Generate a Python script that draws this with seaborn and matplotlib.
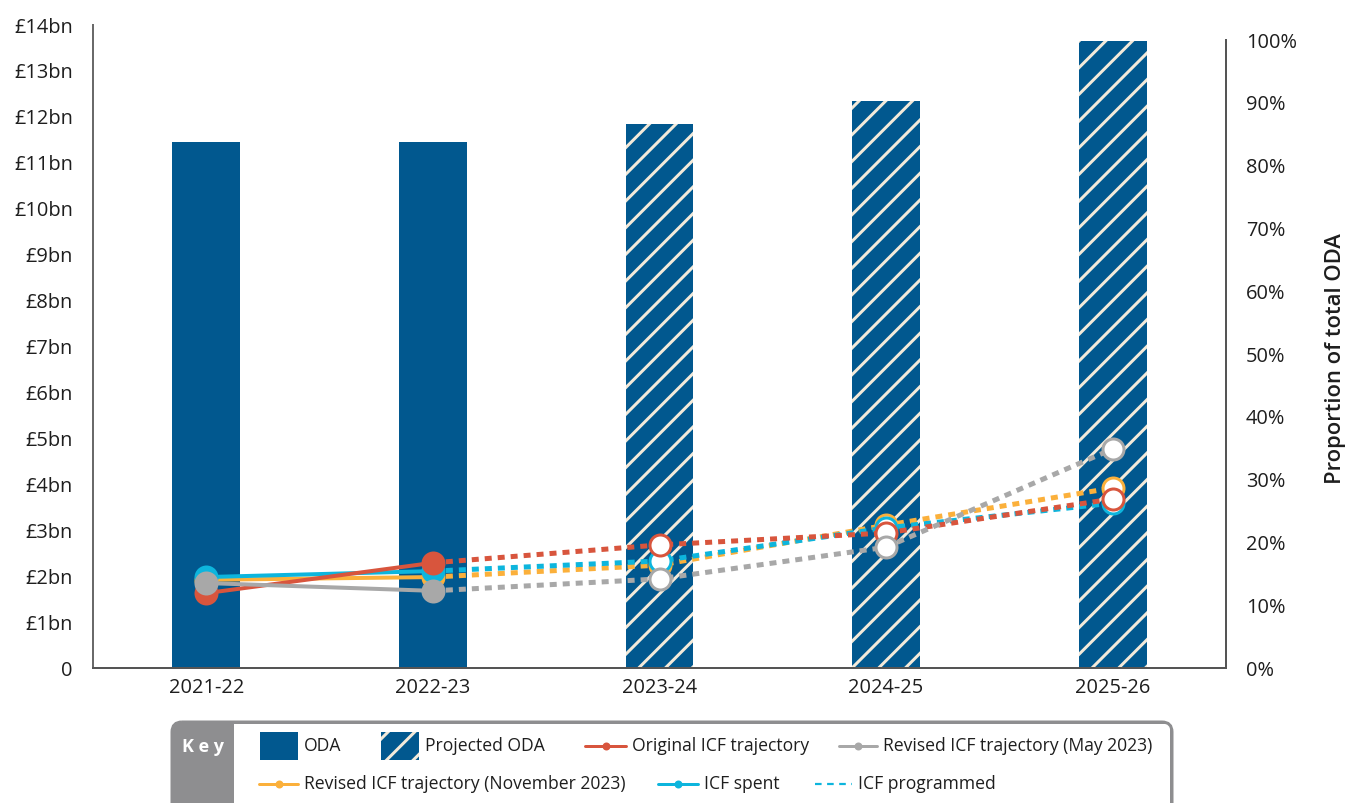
import numpy as np
import matplotlib
matplotlib.use('Agg')
import matplotlib.pyplot as plt
import seaborn as sns
from matplotlib.patches import Rectangle, FancyBboxPatch
from matplotlib.lines import Line2D

# ---------------- data ----------------
years = ['2021-22', '2022-23', '2023-24', '2024-25', '2025-26']
oda_bn = [11.45, 11.45, 11.84, 12.34, 13.66]
oda_projected = [False, False, True, True, True]
original_icf = [1.63, 2.29, 2.68, 2.94, 3.68]
revised_may_2023 = [1.85, 1.68, 1.94, 2.63, 4.77]
revised_nov_2023 = [1.92, 1.98, 2.24, 3.11, 3.92]
icf_spent = [1.98, 2.11]                 # 2021-22, 2022-23
icf_programmed = [2.11, 2.33, 3.05, 3.59]  # 2022-23 .. 2025-26
left_ticks = list(range(0, 15))
left_labels = ['0'] + [f'£{v}bn' for v in range(1, 15)]
right_ticks = list(range(0, 101, 10))
right_labels = [f'{v}%' for v in right_ticks]

# ---------------- style ----------------
BLUE = '#01588F'
CREAM = '#F3EADA'
RED = '#D8553D'
GREY = '#A8A8A8'
ORANGE = '#FBB03B'
CYAN = '#0DB5DD'
KEYGREY = '#8E8E90'
TXT = '#1E1E1E'

DPI = 80
PT = 72 / DPI
W, H = 1346, 803

sns.set_theme(style='white')
plt.rcParams['font.family'] = ['Open Sans', 'DejaVu Sans']
plt.rcParams['hatch.linewidth'] = 3 * PT
plt.rcParams['text.color'] = TXT

fig = plt.figure(figsize=(W / DPI, H / DPI), dpi=DPI)
ax = fig.add_axes([93 / W, 1 - 668 / H, (1226 - 93) / W, (668 - 25) / H])

# bars
sns.barplot(x=years, y=oda_bn, color=BLUE, saturation=1, width=0.30, ax=ax, zorder=1)
for patch, proj in zip(ax.patches, oda_projected):
    patch.set_linewidth(0)
    if proj:
        patch.set_hatch('/')
        patch.set_edgecolor(CREAM)

xs = np.arange(len(years))
n_actual = oda_projected.count(False)
act_x = xs[:n_actual]
proj_x = xs[n_actual - 1:]


def draw(actual_y, proj_y, color, z):
    sns.lineplot(x=act_x, y=actual_y, color=color, lw=4 * PT, marker='o',
                 markersize=24 * PT, markeredgewidth=0, ax=ax, zorder=z, legend=False)
    sns.lineplot(x=proj_x, y=proj_y, color=color, lw=5 * PT,
                 linestyle=(0, (1.4, 1.2)), dash_capstyle='butt', ax=ax,
                 zorder=z, legend=False)
    sns.scatterplot(x=proj_x[1:], y=proj_y[1:], s=(21 * PT) ** 2, facecolor='white',
                    edgecolor=color, linewidth=3 * PT, ax=ax, zorder=z + 0.5, legend=False)


draw(revised_nov_2023[:n_actual], revised_nov_2023[n_actual - 1:], ORANGE, 3)
draw(icf_spent, icf_programmed, CYAN, 4)
draw(original_icf[:n_actual], original_icf[n_actual - 1:], RED, 5)
draw(revised_may_2023[:n_actual], revised_may_2023[n_actual - 1:], GREY, 6)

# axes
ax.set_xlim(-0.5, len(years) - 0.5)
ax.set_ylim(0, 14)
ax.set_xticks(xs)
ax.set_xticklabels(years)
ax.set_xticks(np.arange(-0.5, len(years)), minor=True)
ax.set_yticks(left_ticks)
ax.set_yticklabels(left_labels)
ax.set_xlabel('')
ax.set_ylabel('')
ax.tick_params(axis='x', which='major', length=0, pad=9, labelsize=20 * PT, colors=TXT)
ax.tick_params(axis='x', which='minor', length=27 * PT, width=1, color='#DADADA', direction='out')
ax.tick_params(axis='y', length=0, pad=20 * PT, labelsize=20 * PT, colors=TXT)
for s in ['top', 'right']:
    ax.spines[s].set_visible(False)
ax.spines['left'].set_color('#6A6A6A')
ax.spines['left'].set_linewidth(2 * PT)
ax.spines['bottom'].set_color('#555555')
ax.spines['bottom'].set_linewidth(2 * PT)

ax2 = ax.twinx()
ax2.set_ylim(0, 100 * 643 / 628)
ax2.set_yticks(right_ticks)
ax2.set_yticklabels(right_labels)
ax2.tick_params(axis='y', length=0, pad=20 * PT, labelsize=20 * PT, colors=TXT)
for s in ['top', 'left', 'bottom']:
    ax2.spines[s].set_visible(False)
ax2.spines['right'].set_bounds(0, 100)
ax2.spines['right'].set_color('#555555')
ax2.spines['right'].set_linewidth(2 * PT)
ax2.grid(False)
ax.grid(False)

fig.text(1335 / W, 1 - 359 / H, 'Proportion of total ODA', rotation=90,
         ha='center', va='center', fontsize=22 * PT, weight='semibold', color=TXT)

# ---------------- key ----------------
lax = fig.add_axes([0, 0, 1, 1], zorder=5)
lax.set_xlim(0, W)
lax.set_ylim(H, 0)
lax.axis('off')

lax.add_patch(FancyBboxPatch((172, 722), 1000, 130, boxstyle='round,pad=0,rounding_size=10',
                             facecolor=KEYGREY, edgecolor='none'))
lax.add_patch(Rectangle((234, 724), 936, 130, facecolor='white', edgecolor='none'))
lax.add_patch(FancyBboxPatch((172, 722), 1000, 130, boxstyle='round,pad=0,rounding_size=10',
                             facecolor='none', edgecolor=KEYGREY, lw=3 * PT))
lax.text(203, 747, 'K e y', color='white', weight='bold', fontsize=18 * PT,
         ha='center', va='center')

LFS = 17.5 * PT
r1, r2 = 746, 784
lax.add_patch(Rectangle((260, r1 - 14), 38, 28, facecolor=BLUE, lw=0))
lax.text(304, r1, 'ODA', fontsize=LFS, va='center', ha='left')
lax.add_patch(Rectangle((381, r1 - 14), 38, 28, facecolor=BLUE, hatch='/',
                        edgecolor=CREAM, lw=0))
lax.text(425, r1, 'Projected ODA', fontsize=LFS, va='center', ha='left')


def key_line(x0, x1, y, color, label, dashed=False):
    if dashed:
        lax.add_line(Line2D([x0, x1], [y, y], color=color, lw=2.2 * PT, ls=(0, (3, 2.5))))
    else:
        lax.add_line(Line2D([x0, x1], [y, y], color=color, lw=3 * PT))
        lax.add_line(Line2D([(x0 + x1) / 2], [y], color=color, marker='o',
                            ms=8 * PT, mew=0, ls='none'))
    lax.text(x1 + 6, y, label, fontsize=LFS, va='center', ha='left')


key_line(585, 626, r1, RED, 'Original ICF trajectory')
key_line(839, 877, r1, GREY, 'Revised ICF trajectory (May 2023)')
key_line(259, 298, r2, ORANGE, 'Revised ICF trajectory (November 2023)')
key_line(658, 698, r2, CYAN, 'ICF spent')
key_line(815, 852, r2, CYAN, 'ICF programmed', dashed=True)

fig.savefig('out.png', dpi=DPI)
